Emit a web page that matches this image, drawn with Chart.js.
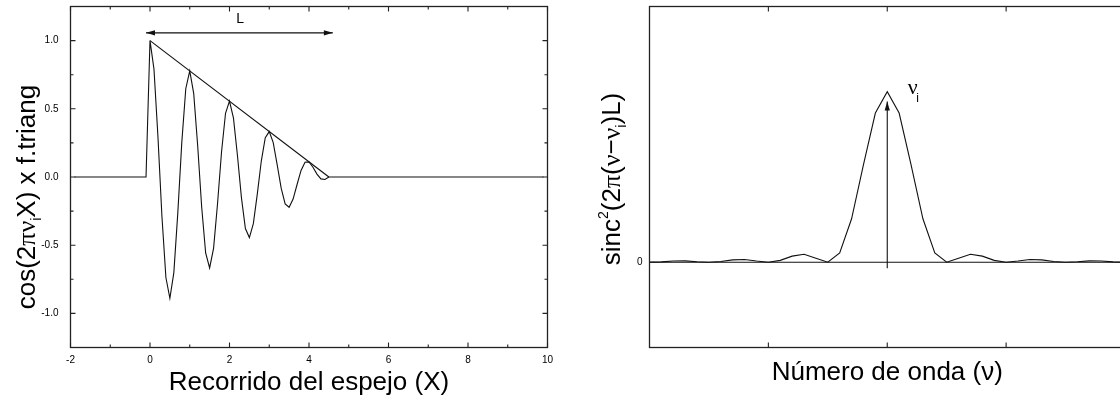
<!DOCTYPE html>
<html>
<head>
<meta charset="utf-8">
<script src="https://cdn.jsdelivr.net/npm/chart.js@4.4.1/dist/chart.umd.min.js"></script>
<style>
  html, body { margin: 0; padding: 0; background: #fff; overflow: hidden; }
  #wrap { position: relative; width: 1120px; height: 403px; overflow: hidden; }
  #left { position: absolute; left: 0; top: 0; }
  #right { position: absolute; left: 560px; top: 0; }
</style>
</head>
<body>
<div id="wrap">
  <canvas id="left" width="560" height="403"></canvas>
  <canvas id="right" width="580" height="403"></canvas>
</div>
<script>
'use strict';

// DATA - left panel: cos(2 pi nu_i X) x triangular window
let mirrorX = [-1.9, -0.1,
  0.0, 0.1, 0.2, 0.3, 0.4, 0.5, 0.6, 0.7, 0.8, 0.9,
  1.0, 1.1, 1.2, 1.3, 1.4, 1.5, 1.6, 1.7, 1.8, 1.9,
  2.0, 2.1, 2.2, 2.3, 2.4, 2.5, 2.6, 2.7, 2.8, 2.9,
  3.0, 3.1, 3.2, 3.3, 3.4, 3.5, 3.6, 3.7, 3.8, 3.9,
  4.0, 4.1, 4.2, 4.3, 4.4, 4.5,
  9.9];
let signalY = [0, 0,
  1.000, 0.791, 0.295, -0.288, -0.737, -0.889, -0.701, -0.261, 0.254, 0.647,
  0.778, 0.611, 0.227, -0.220, -0.557, -0.667, -0.521, -0.192, 0.185, 0.467,
  0.556, 0.431, 0.158, -0.151, -0.378, -0.444, -0.342, -0.124, 0.117, 0.288,
  0.333, 0.252, 0.089, -0.082, -0.198, -0.222, -0.162, -0.055, 0.048, 0.108,
  0.111, 0.072, 0.021, -0.014, -0.018, 0.000,
  0];
let triangX = [0, 4.5];
let triangY = [1, 0];

let leftXTicks = [-2, 0, 2, 4, 6, 8, 10];
let leftXLabels = ['-2', '0', '2', '4', '6', '8', '10'];
let leftXMinor = [-1, 1, 3, 5, 7, 9];
let leftYTicks = [-1.0, -0.5, 0.0, 0.5, 1.0];
let leftYLabels = ['-1.0', '-0.5', '0.0', '0.5', '1.0'];
let leftYMinor = [-0.75, -0.25, 0.25, 0.75];

// DATA - right panel: sinc^2 line shape
let waveX = [
  0.0, 0.1, 0.2, 0.3, 0.4, 0.5, 0.6, 0.7, 0.8, 0.9,
  1.0, 1.1, 1.2, 1.3, 1.4, 1.5, 1.6, 1.7, 1.8, 1.9,
  2.0, 2.1, 2.2, 2.3, 2.4, 2.5, 2.6, 2.7, 2.8, 2.9,
  3.0, 3.1, 3.2, 3.3, 3.4, 3.5, 3.6, 3.7, 3.8, 3.9,
  4.0];
let sincY = [
  0.000, 0.002, 0.007, 0.008, 0.003, 0.000, 0.004, 0.014, 0.016, 0.007,
  0.000, 0.011, 0.036, 0.047, 0.024, 0.000, 0.055, 0.255, 0.573, 0.875,
  1.000, 0.875, 0.573, 0.255, 0.055, 0.000, 0.024, 0.047, 0.036, 0.011,
  0.000, 0.007, 0.016, 0.014, 0.004, 0.000, 0.003, 0.008, 0.007, 0.002,
  0.000];
let zeroX = [0, 4];
let zeroY = [0, 0];

let rightXMajor = [1, 2, 3];
let rightYTicks = [0];
let rightYLabels = ['0'];

const SANS = "'Liberation Sans', Arial, sans-serif";
const SERIF = "'Liberation Serif', 'Times New Roman', serif";
const INK = '#000';

// HELPERS
function points(xs, ys) {
  let out = [];
  for (let i = 0; i < xs.length; i++) {
    out.push({x: xs[i], y: ys[i]});
  }
  return out;
}

function lineSet(xs, ys) {
  return {
    data: points(xs, ys),
    borderColor: '#111',
    borderWidth: 1.1,
    pointRadius: 0,
    tension: 0,
    fill: false
  };
}

// PLUGINS
// box around plot area with inward ticks on all four sides
const frameTicks = {
  id: 'frameTicks',
  afterDatasetsDraw(chart, args, opts) {
    const {ctx, chartArea: a, scales: {x, y}} = chart;
    ctx.save();
    ctx.strokeStyle = '#222';
    ctx.lineWidth = 1.3;
    ctx.strokeRect(a.left, a.top, a.right - a.left, a.bottom - a.top);
    ctx.lineWidth = 1.1;
    ctx.beginPath();
    function xt(vals, len) {
      (vals || []).forEach(v => {
        let px = x.getPixelForValue(v);
        ctx.moveTo(px, a.bottom); ctx.lineTo(px, a.bottom - len);
        ctx.moveTo(px, a.top); ctx.lineTo(px, a.top + len);
      });
    }
    function yt(vals, len) {
      (vals || []).forEach(v => {
        let py = y.getPixelForValue(v);
        ctx.moveTo(a.left, py); ctx.lineTo(a.left + len, py);
        ctx.moveTo(a.right, py); ctx.lineTo(a.right - len, py);
      });
    }
    xt(opts.xMajor, 5);
    xt(opts.xMinor, 3);
    yt(opts.yMajor, 5);
    yt(opts.yMinor, 3);
    ctx.stroke();
    ctx.restore();
  }
};

// rotated y title with sub / superscripts
const richTitle = {
  id: 'richTitle',
  afterDraw(chart, args, opts) {
    if (!opts.parts) return;
    const {ctx, chartArea: a} = chart;
    const cy = (a.top + a.bottom) / 2 + (opts.shift || 0);
    ctx.save();
    ctx.fillStyle = INK;
    ctx.textBaseline = 'alphabetic';
    ctx.textAlign = 'left';
    let total = 0;
    let widths = opts.parts.map(p => {
      ctx.font = (p.size || 26) + 'px ' + (p.serif ? SERIF : SANS);
      let w = ctx.measureText(p.t).width;
      total += w;
      return w;
    });
    ctx.translate(opts.x, cy);
    ctx.rotate(-Math.PI / 2);
    let pos = -total / 2;
    opts.parts.forEach((p, i) => {
      ctx.font = (p.size || 26) + 'px ' + (p.serif ? SERIF : SANS);
      ctx.fillText(p.t, pos, p.dy || 0);
      pos += widths[i];
    });
    ctx.restore();
  }
};

// arrows and free labels placed in data units
const marks = {
  id: 'marks',
  afterDatasetsDraw(chart, args, opts) {
    const {ctx, scales: {x, y}} = chart;
    ctx.save();
    ctx.strokeStyle = '#111';
    ctx.fillStyle = '#111';
    ctx.lineWidth = 1.1;
    function head(x0, y0, x1, y1) {
      let ang = Math.atan2(y1 - y0, x1 - x0);
      let len = 9, half = 2.6;
      ctx.beginPath();
      ctx.moveTo(x1, y1);
      ctx.lineTo(x1 - len * Math.cos(ang) - half * Math.sin(ang), y1 - len * Math.sin(ang) + half * Math.cos(ang));
      ctx.lineTo(x1 - len * Math.cos(ang) + half * Math.sin(ang), y1 - len * Math.sin(ang) - half * Math.cos(ang));
      ctx.closePath();
      ctx.fill();
    }
    (opts.arrows || []).forEach(ar => {
      let x0 = x.getPixelForValue(ar.from[0]), y0 = y.getPixelForValue(ar.from[1]);
      let x1 = x.getPixelForValue(ar.to[0]), y1 = y.getPixelForValue(ar.to[1]);
      ctx.beginPath();
      ctx.moveTo(x0, y0);
      ctx.lineTo(x1, y1);
      ctx.stroke();
      head(x0, y0, x1, y1);
      if (ar.both) head(x1, y1, x0, y0);
    });
    ctx.fillStyle = INK;
    ctx.textAlign = 'center';
    ctx.textBaseline = 'middle';
    (opts.labels || []).forEach(lb => {
      ctx.font = lb.size + 'px ' + (lb.serif ? SERIF : SANS);
      ctx.fillText(lb.t, x.getPixelForValue(lb.at[0]), y.getPixelForValue(lb.at[1]));
    });
    ctx.restore();
  }
};

function axisBase() {
  return {
    type: 'linear',
    grid: {display: false, drawTicks: true, tickLength: 7},
    border: {display: false},
    ticks: {font: {family: SANS, size: 10}, color: INK, padding: 0, maxRotation: 0, autoSkip: false}
  };
}

// LEFT CHART
let leftX = axisBase();
leftX.min = -2;
leftX.max = 10;
leftX.afterBuildTicks = s => { s.ticks = leftXTicks.map(v => ({value: v})); };
leftX.afterFit = s => { s.height = 55.5; };
leftX.ticks.callback = (v, i) => leftXLabels[i];
leftX.title = {display: true, text: 'Recorrido del espejo (X)', color: INK,
  font: {family: SANS, size: 26, lineHeight: 1}, padding: {top: 0, bottom: 7}};

let leftY = axisBase();
leftY.min = -1.25;
leftY.max = 1.25;
leftY.grid.tickLength = 12;
leftY.afterBuildTicks = s => { s.ticks = leftYTicks.map(v => ({value: v})); };
leftY.afterFit = s => { s.width = 70.5; };
leftY.ticks.callback = (v, i) => leftYLabels[i];

new Chart(document.getElementById('left'), {
  type: 'line',
  data: {
    datasets: [lineSet(mirrorX, signalY), lineSet(triangX, triangY)]
  },
  options: {
    responsive: false,
    animation: false,
    layout: {padding: {top: 6.5, right: 12.5, left: 0, bottom: 0}},
    plugins: {
      legend: {display: false},
      tooltip: {enabled: false},
      frameTicks: {xMajor: leftXTicks, xMinor: leftXMinor, yMajor: leftYTicks, yMinor: leftYMinor},
      richTitle: {
        x: 35, shift: 20,
        parts: [
          {t: 'cos(2'},
          {t: '\u03C0\u03BD', serif: true},
          {t: 'i', size: 14, dy: 6},
          {t: 'X) x f.triang'}
        ]
      },
      marks: {
        arrows: [{from: [-0.1, 1.057], to: [4.6, 1.057], both: true}],
        labels: [{t: 'L', at: [2.27, 1.154], size: 14}]
      }
    },
    scales: {x: leftX, y: leftY}
  },
  plugins: [frameTicks, richTitle, marks]
});

// RIGHT CHART
let rightX = axisBase();
rightX.min = 0;
rightX.max = 4;
rightX.ticks.display = false;
rightX.afterFit = s => { s.height = 55.5; };
rightX.title = {display: true, text: 'N\u00FAmero de onda (\u03BD)', color: INK,
  font: {family: SANS, size: 26, lineHeight: 1}, padding: {top: 0, bottom: 17}};

let rightY = axisBase();
rightY.min = -0.5;
rightY.max = 1.5;
rightY.afterBuildTicks = s => { s.ticks = rightYTicks.map(v => ({value: v})); };
rightY.afterFit = s => { s.width = 89.5; };
rightY.ticks.callback = (v, i) => rightYLabels[i];

new Chart(document.getElementById('right'), {
  type: 'line',
  data: {
    datasets: [lineSet(zeroX, zeroY), lineSet(waveX, sincY)]
  },
  options: {
    responsive: false,
    animation: false,
    layout: {padding: {top: 6.5, right: 15, left: 0, bottom: 0}},
    plugins: {
      legend: {display: false},
      tooltip: {enabled: false},
      frameTicks: {xMajor: rightXMajor, yMajor: rightYTicks},
      richTitle: {
        x: 60, shift: 2,
        parts: [
          {t: 'sinc'},
          {t: '2', size: 14, dy: -12},
          {t: '(2'},
          {t: '\u03C0', serif: true},
          {t: '('},
          {t: '\u03BD', serif: true},
          {t: '\u2212'},
          {t: '\u03BD', serif: true},
          {t: 'i', size: 14, dy: 6},
          {t: ')L)'}
        ]
      },
      marks: {
        arrows: [{from: [2, -0.035], to: [2, 0.943]}],
        labels: [
          {t: '\u03BD', at: [2.214, 1.02], size: 22, serif: true},
          {t: 'i', at: [2.256, 0.96], size: 12}
        ]
      }
    },
    scales: {x: rightX, y: rightY}
  },
  plugins: [frameTicks, richTitle, marks]
});
</script>
</body>
</html>
